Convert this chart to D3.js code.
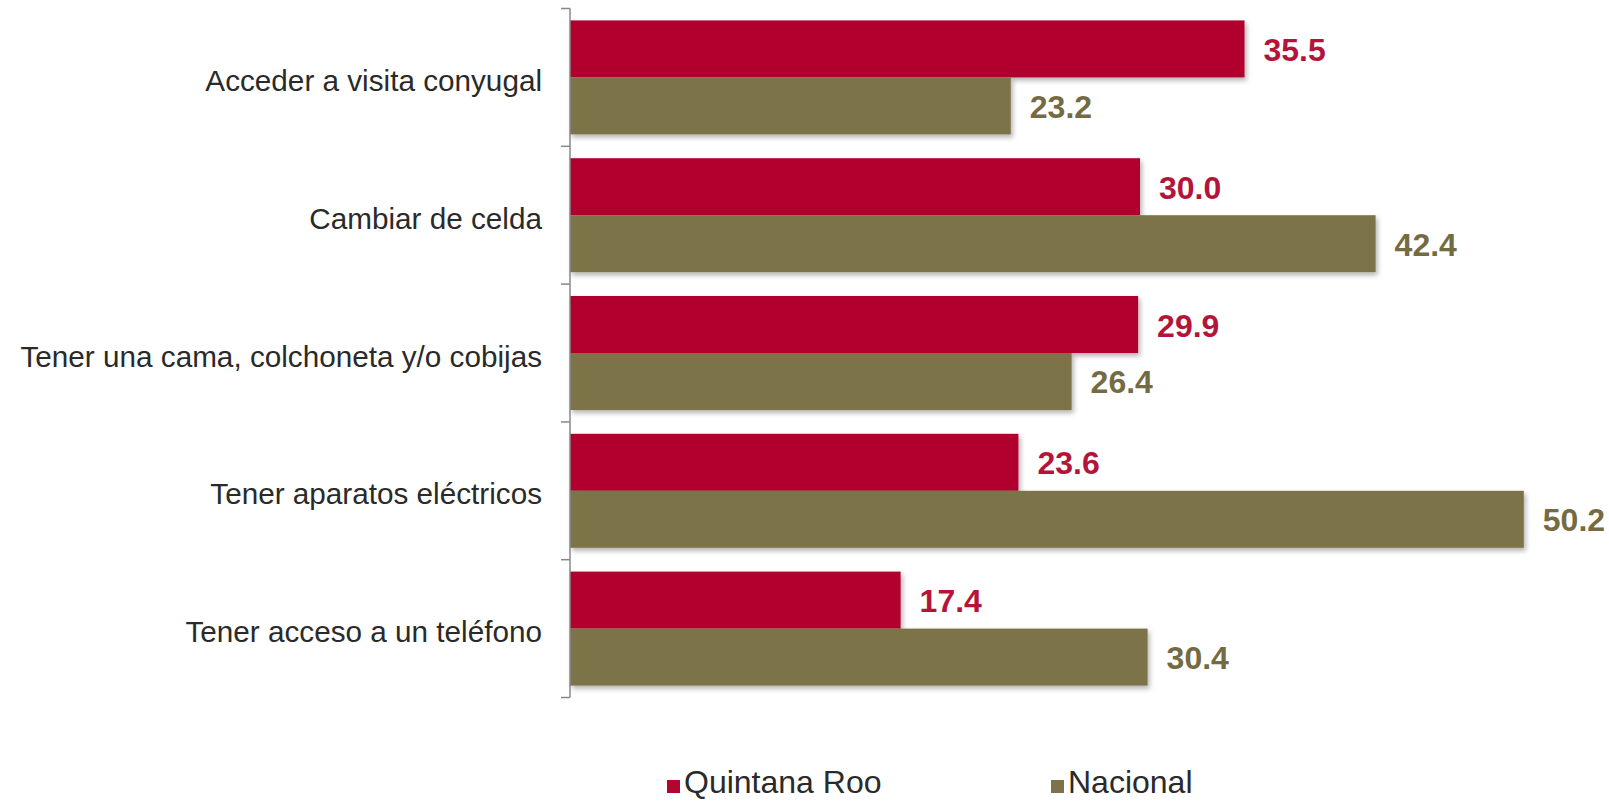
<!DOCTYPE html>
<html><head><meta charset="utf-8">
<script src="https://cdn.jsdelivr.net/npm/d3@7"></script>
<style>body{margin:0;background:#fff}svg{display:block}text{font-family:"Liberation Sans",Arial,sans-serif}</style>
</head><body>
<svg id="c" width="1609" height="801"></svg>
<script>
const categories = ["Acceder a visita conyugal","Cambiar de celda","Tener una cama, colchoneta y/o cobijas","Tener aparatos eléctricos","Tener acceso a un teléfono"];
const seriesNames = ["Quintana Roo","Nacional"];
const quintanaRoo = [35.5, 30.0, 29.9, 23.6, 17.4];
const nacional = [23.2, 42.4, 26.4, 50.2, 30.4];
const colors = ["#B1062D","#7D734A"];
const labelColors = ["#B5143A","#746B42"];

const svg = d3.select("#c");
const defs = svg.append("defs");
const f = defs.append("filter").attr("id","sh").attr("x","-5%").attr("y","-20%").attr("width","115%").attr("height","150%");
f.append("feDropShadow").attr("dx",2).attr("dy",3).attr("stdDeviation",2.5).attr("flood-color","#000").attr("flood-opacity",0.3);

const x = d3.scaleLinear().domain([0,50]).range([570,1520]);
const y0 = d3.scaleBand().domain(categories).range([8.5,697.5]).paddingInner(0).paddingOuter(0);
const y1 = d3.scaleBand().domain(seriesNames).range([0,y0.bandwidth()]).paddingInner(0).paddingOuter(0.209);

const data = categories.map((c,i)=>({cat:c, vals:[quintanaRoo[i], nacional[i]]}));

const g = svg.append("g");
data.forEach(d=>{
  d.vals.forEach((v,j)=>{
    const yy = y0(d.cat)+y1(seriesNames[j]);
    g.append("rect").attr("x",x(0)).attr("y",yy).attr("width",x(v)-x(0)).attr("height",y1.bandwidth())
      .attr("fill",colors[j]).attr("filter","url(#sh)");
    g.append("text").attr("x",x(v)+19).attr("y",yy+y1.bandwidth()/2+1).attr("dominant-baseline","central")
      .attr("font-size",32).attr("font-weight","bold").attr("fill",labelColors[j]).text(v.toFixed(1));
  });
});

// axis
const ax = svg.append("g").attr("transform",`translate(${x(0)},0)`);
ax.append("line").attr("x1",0).attr("x2",0).attr("y1",y0.range()[0]).attr("y2",y0.range()[1]).attr("stroke","#888").attr("stroke-width",1.5);
const ticks = categories.map(c=>y0(c)).concat([y0.range()[1]]);
ax.selectAll("line.t").data(ticks).join("line").attr("class","t").attr("x1",-9).attr("x2",0).attr("y1",d=>d).attr("y2",d=>d).attr("stroke","#888").attr("stroke-width",1.5);
ax.selectAll("text").data(categories).join("text").attr("x",-28).attr("y",d=>y0(d)+y0.bandwidth()/2+3)
  .attr("text-anchor","end").attr("dominant-baseline","central").attr("font-size",29.7).attr("fill","#2a2a2a").text(d=>d);

// legend
const legX = [667, 1051];
const lg = svg.append("g");
seriesNames.forEach((s,i)=>{
  lg.append("rect").attr("x",legX[i]).attr("y",780).attr("width",13).attr("height",13).attr("fill",colors[i]);
  lg.append("text").attr("x",legX[i]+17).attr("y",793).attr("font-size",32).attr("fill","#2a2a2a").text(s);
});
</script>
</body></html>
